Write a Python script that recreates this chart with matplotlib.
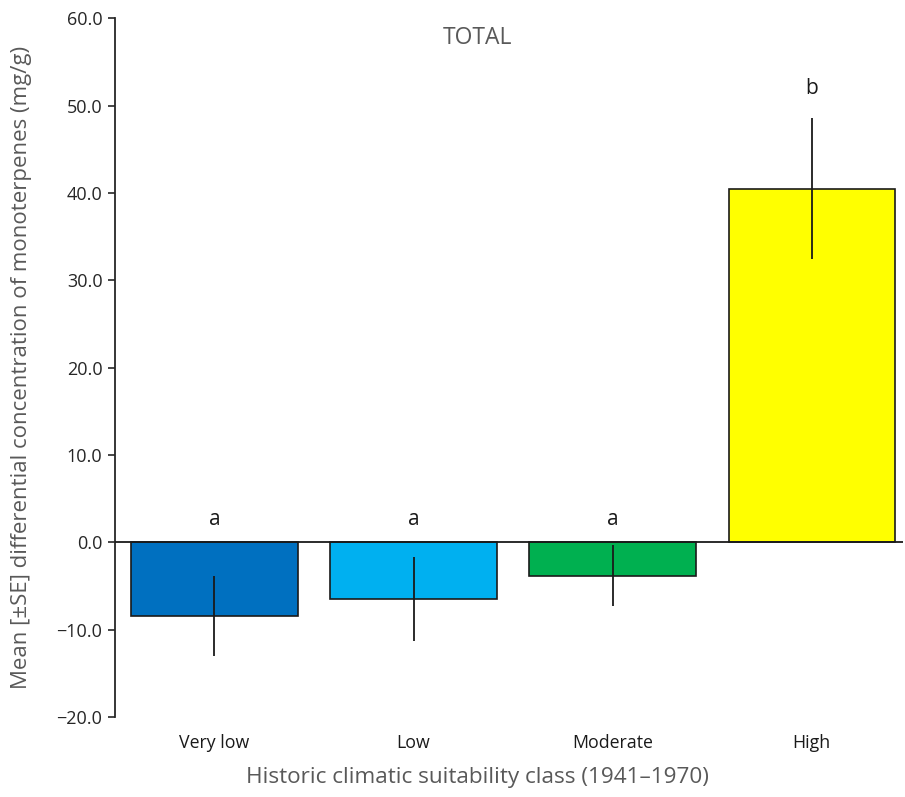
import matplotlib
matplotlib.use("Agg")
import matplotlib.pyplot as plt

categories = ["Very low", "Low", "Moderate", "High"]
means = [-8.4, -6.5, -3.8, 40.5]
se = [4.6, 4.8, 3.5, 8.1]
letters = ["a", "a", "a", "b"]
letter_y = [2.6, 2.6, 2.6, 52.0]
colors = ["#0070C0", "#00B0F0", "#00B050", "#FFFF00"]
yticks = [-20, -10, 0, 10, 20, 30, 40, 50, 60]

plt.rcParams['font.family'] = ['Open Sans', 'DejaVu Sans']

fig = plt.figure(figsize=(9.05, 7.97), dpi=100)
ax = fig.add_axes([0.127, 0.1004, 0.871, 0.8766])

x = list(range(len(categories)))
ax.bar(x, means, width=0.835, color=colors, edgecolor="#1a1a1a", linewidth=1.2, zorder=2)
ax.errorbar(x, means, yerr=se, fmt="none", ecolor="#1a1a1a", elinewidth=1.3, capsize=0, zorder=3)
ax.axhline(0, color="#1a1a1a", linewidth=1.3, zorder=4)

for xi, l, ly in zip(x, letters, letter_y):
    ax.text(xi, ly, l, ha="center", va="center", fontsize=15, color="#1a1a1a")

ax.set_xlim(-0.5, 3.46)
ax.set_ylim(-20, 60)
ax.set_yticks(yticks)
ax.set_yticklabels([f"{v:.1f}".replace("-", "\u2212") for v in yticks], fontsize=13, color="#262626")
ax.set_xticks(x)
ax.set_xticklabels(categories, fontsize=12.8, color="#1a1a1a")
ax.tick_params(axis="x", length=0, pad=12)
ax.tick_params(axis="y", length=5, width=1.2, color="#262626", direction="out", pad=4)

for s in ["top", "right", "bottom"]:
    ax.spines[s].set_visible(False)
ax.spines["left"].set_linewidth(1.3)
ax.spines["left"].set_color("#262626")

ax.set_ylabel("Mean [\u00b1SE] differential concentration of monoterpenes (mg/g)",
              fontsize=16, color="#595959", va="center")
ax.yaxis.set_label_coords(-0.118, 0.5)
ax.set_xlabel("Historic climatic suitability class (1941\u20131970)",
              fontsize=16.2, color="#595959", va="center")
ax.xaxis.set_label_coords(0.46, -0.0873)
ax.text(0.46, 0.972, "TOTAL", transform=ax.transAxes, ha="center", va="center",
        fontsize=16.5, color="#595959")

fig.savefig("out.png", dpi=100)
